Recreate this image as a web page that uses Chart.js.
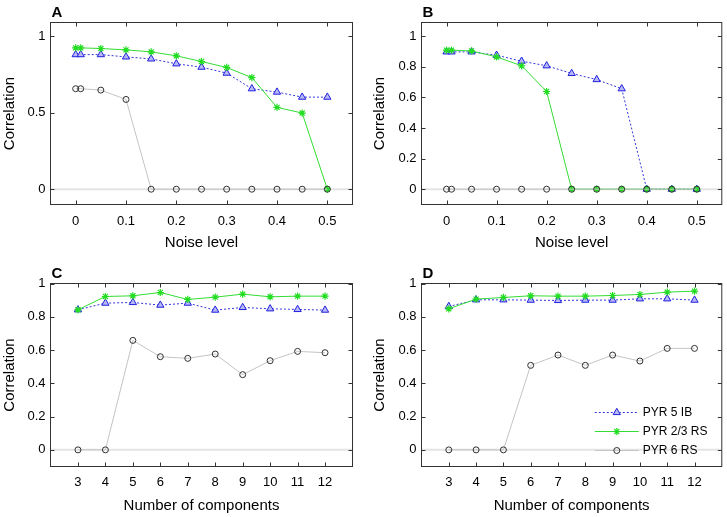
<!DOCTYPE html>
<html lang="en">
<head>
<meta charset="UTF-8" />
<title>Correlation vs noise level and number of components</title>
<script src="https://cdn.jsdelivr.net/npm/chart.js"></script>
<style>
  body { margin: 0; background: #fff; }
  #wrap { position: relative; width: 727px; height: 517px; }
  canvas { position: absolute; }
</style>
</head>
<body>
<div id="wrap">
  <canvas id="panelA" width="364" height="258" style="left:0;top:0"></canvas>
  <canvas id="panelB" width="363" height="258" style="left:364px;top:0"></canvas>
  <canvas id="panelC" width="364" height="259" style="left:0;top:258px"></canvas>
  <canvas id="panelD" width="363" height="259" style="left:364px;top:258px"></canvas>
</div>
<script>
  // x values and ticks
  const noiseLevels = [0, 0.01, 0.05, 0.1, 0.15, 0.2, 0.25, 0.3, 0.35, 0.4, 0.45, 0.5];
  const components = [3, 4, 5, 6, 7, 8, 9, 10, 11, 12];
  const noiseTicks = [0, 0.1, 0.2, 0.3, 0.4, 0.5];
  const componentTicks = [3, 4, 5, 6, 7, 8, 9, 10, 11, 12];
  const yTicksCoarse = [0, 0.5, 1];
  const yTicksFine = [0, 0.2, 0.4, 0.6, 0.8, 1];

  const seriesNames = ['PYR 5 IB', 'PYR 2/3 RS', 'PYR 6 RS'];

  // panel A
  const a_pyr5ib  = [0.88, 0.88, 0.88, 0.865, 0.852, 0.82, 0.798, 0.759, 0.657, 0.635, 0.602, 0.602];
  const a_pyr23rs = [0.924, 0.924, 0.92, 0.911, 0.898, 0.872, 0.835, 0.796, 0.73, 0.535, 0.498, 0];
  const a_pyr6rs  = [0.657, 0.657, 0.648, 0.587, 0, 0, 0, 0, 0, 0, 0, 0];

  // panel B
  const b_pyr5ib  = [0.898, 0.898, 0.898, 0.876, 0.837, 0.807, 0.757, 0.717, 0.657, 0, 0, 0];
  const b_pyr23rs = [0.909, 0.909, 0.904, 0.865, 0.807, 0.639, 0, 0, 0, 0, 0, 0];
  const b_pyr6rs  = [0, 0, 0, 0, 0, 0, 0, 0, 0, 0, 0, 0];

  // panel C
  const c_pyr5ib  = [0.842, 0.882, 0.886, 0.87, 0.882, 0.84, 0.856, 0.848, 0.844, 0.84];
  const c_pyr23rs = [0.842, 0.922, 0.926, 0.946, 0.904, 0.918, 0.936, 0.92, 0.924, 0.924];
  const c_pyr6rs  = [0, 0, 0.658, 0.56, 0.55, 0.576, 0.452, 0.536, 0.592, 0.584];

  // panel D
  const d_pyr5ib  = [0.862, 0.902, 0.902, 0.9, 0.898, 0.9, 0.9, 0.908, 0.908, 0.9];
  const d_pyr23rs = [0.848, 0.906, 0.916, 0.926, 0.924, 0.924, 0.928, 0.934, 0.948, 0.954];
  const d_pyr6rs  = [0, 0, 0, 0.508, 0.57, 0.508, 0.57, 0.534, 0.61, 0.61];

  const FONT = '"Liberation Sans", Arial, Helvetica, sans-serif';

  function pairs(xs, ys) {
    return xs.map((x, i) => ({ x: x, y: ys[i] }));
  }

  function makeDatasets(xs, s5, s23, s6) {
    return [
      {
        label: seriesNames[0], data: pairs(xs, s5), order: 2,
        borderColor: '#3434dc', borderWidth: 1, borderDash: [2, 2],
        pointStyle: 'triangle', pointRadius: 4.2, pointBorderWidth: 1,
        pointBorderColor: '#2020e0', pointBackgroundColor: '#b8b8f4'
      },
      {
        label: seriesNames[1], data: pairs(xs, s23), order: 1,
        borderColor: '#33dd33', borderWidth: 1,
        pointStyle: 'star', pointRadius: 3.6, pointBorderWidth: 1.2,
        pointBorderColor: '#22dd22', pointBackgroundColor: '#22dd22'
      },
      {
        label: seriesNames[2], data: pairs(xs, s6), order: 0,
        borderColor: '#c4c4c4', borderWidth: 1,
        pointStyle: 'circle', pointRadius: 3, pointBorderWidth: 1,
        pointBorderColor: '#303030', pointBackgroundColor: 'rgba(0,0,0,0)'
      }
    ];
  }

  // zero line, box with inward ticks, panel letter, legend
  const matlabAxes = {
    id: 'matlabAxes',
    beforeDatasetsDraw(chart) {
      const { ctx, chartArea: ca, scales: { y } } = chart;
      const y0 = y.getPixelForValue(0);
      ctx.save();
      ctx.strokeStyle = '#e4e4e4';
      ctx.lineWidth = 2;
      ctx.beginPath();
      ctx.moveTo(ca.left, y0);
      ctx.lineTo(ca.right, y0);
      ctx.stroke();
      ctx.restore();
    },
    afterDraw(chart, args, opts) {
      const { ctx, chartArea: ca, scales: { x, y } } = chart;
      ctx.save();
      ctx.strokeStyle = '#333';
      ctx.lineWidth = 1;
      ctx.strokeRect(ca.left, ca.top, ca.right - ca.left, ca.bottom - ca.top);
      const tl = 4;
      ctx.beginPath();
      x.ticks.forEach(t => {
        const px = Math.round(x.getPixelForValue(t.value)) + 0.5;
        ctx.moveTo(px, ca.bottom); ctx.lineTo(px, ca.bottom - tl);
        ctx.moveTo(px, ca.top); ctx.lineTo(px, ca.top + tl);
      });
      y.ticks.forEach(t => {
        const py = Math.round(y.getPixelForValue(t.value)) + 0.5;
        ctx.moveTo(ca.left, py); ctx.lineTo(ca.left + tl, py);
        ctx.moveTo(ca.right, py); ctx.lineTo(ca.right - tl, py);
      });
      ctx.stroke();

      ctx.fillStyle = '#000';
      ctx.font = 'bold 15px ' + FONT;
      ctx.textBaseline = 'alphabetic';
      ctx.textAlign = 'left';
      ctx.fillText(opts.letter, ca.left + 1, ca.top - 6);

      if (opts.legend) {
        ctx.font = '12px ' + FONT;
        ctx.textBaseline = 'middle';
        const lx0 = ca.right - 127, lx1 = ca.right - 83, tx = ca.right - 79;
        const rows = [ca.bottom - 54, ca.bottom - 35, ca.bottom - 16];
        chart.data.datasets.forEach((ds, i) => {
          const ry = rows[i];
          ctx.save();
          ctx.strokeStyle = ds.borderColor;
          ctx.lineWidth = ds.borderWidth;
          ctx.setLineDash(ds.borderDash || []);
          ctx.beginPath();
          ctx.moveTo(lx0, ry); ctx.lineTo(lx1, ry);
          ctx.stroke();
          ctx.setLineDash([]);
          ctx.strokeStyle = ds.pointBorderColor;
          ctx.fillStyle = ds.pointBackgroundColor;
          ctx.lineWidth = ds.pointBorderWidth;
          Chart.helpers.drawPoint(ctx, {
            pointStyle: ds.pointStyle, radius: ds.pointRadius,
            rotation: 0, borderWidth: ds.pointBorderWidth
          }, (lx0 + lx1) / 2, ry);
          ctx.restore();
          ctx.fillStyle = '#000';
          ctx.fillText(ds.label, tx, ry);
        });
      }
      ctx.restore();
    }
  };

  function makePanel(id, xs, xTicks, yTicks, yMax, datasets, lay, letter, xTitle, legend) {
    const canvas = document.getElementById(id);
    const W = canvas.width, H = canvas.height;
    return new Chart(canvas, {
      type: 'line',
      data: { datasets: datasets },
      options: {
        responsive: false,
        animation: false,
        layout: { padding: { left: 0, top: lay.top, right: W - lay.right, bottom: 0 } },
        plugins: {
          legend: { display: false },
          tooltip: { enabled: false },
          matlabAxes: { letter: letter, legend: legend }
        },
        scales: {
          x: {
            type: 'linear',
            min: xs[0], max: xs[1],
            grid: { display: false, drawTicks: false }, border: { display: false },
            afterBuildTicks: s => { s.ticks = xTicks.map(v => ({ value: v })); },
            afterFit: s => { s.height = H - lay.bottom; },
            ticks: {
              color: '#000', padding: lay.xTickGap - 6.5,
              font: { family: FONT, size: 13, lineHeight: 1 },
              callback: v => String(v)
            },
            title: {
              display: true, text: xTitle, color: '#000',
              font: { family: FONT, size: 15, lineHeight: 1 },
              padding: { top: 0, bottom: H - lay.xTitleY - 7.5 }
            }
          },
          y: {
            min: -0.1, max: yMax,
            grid: { display: false, drawTicks: false }, border: { display: false },
            afterBuildTicks: s => { s.ticks = yTicks.map(v => ({ value: v })); },
            afterFit: s => { s.width = lay.left; },
            ticks: {
              color: '#000', padding: 5,
              font: { family: FONT, size: 13 },
              callback: v => String(v)
            },
            title: {
              display: true, text: 'Correlation', color: '#000',
              font: { family: FONT, size: 15, lineHeight: 1 },
              padding: { top: lay.yTitleX - 7.5, bottom: 0 }
            }
          }
        }
      },
      plugins: [matlabAxes]
    });
  }

  const noiseRange = [-0.05, 0.55];
  const compRange = [2, 13];

  makePanel('panelA', noiseRange, noiseTicks, yTicksCoarse, 1.09,
    makeDatasets(noiseLevels, a_pyr5ib, a_pyr23rs, a_pyr6rs),
    { left: 50.5, top: 22.5, right: 352.5, bottom: 204.5, xTickGap: 17, xTitleY: 243, yTitleX: 9.5 },
    'A', 'Noise level', false);

  makePanel('panelB', noiseRange, noiseTicks, yTicksFine, 1.09,
    makeDatasets(noiseLevels, b_pyr5ib, b_pyr23rs, b_pyr6rs),
    { left: 57.5, top: 22.5, right: 359.5, bottom: 204.5, xTickGap: 17, xTitleY: 243, yTitleX: 15.8 },
    'B', 'Noise level', false);

  makePanel('panelC', compRange, componentTicks, yTicksFine, 1,
    makeDatasets(components, c_pyr5ib, c_pyr23rs, c_pyr6rs),
    { left: 50.5, top: 25.5, right: 352.5, bottom: 208.5, xTickGap: 15.5, xTitleY: 247.5, yTitleX: 9.5 },
    'C', 'Number of components', false);

  makePanel('panelD', compRange, componentTicks, yTicksFine, 1,
    makeDatasets(components, d_pyr5ib, d_pyr23rs, d_pyr6rs),
    { left: 57.5, top: 25.5, right: 359.5, bottom: 208.5, xTickGap: 15.5, xTitleY: 247.5, yTitleX: 15.8 },
    'D', 'Number of components', true);
</script>
</body>
</html>
